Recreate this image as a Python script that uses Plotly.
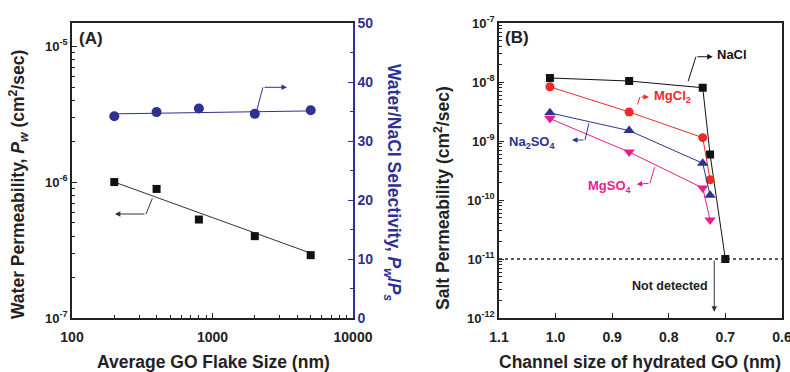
import math
import plotly.graph_objects as go

# ---------------- data: panel A ----------------
flake_size = [200, 400, 800, 2000, 5000]
water_perm = [1.0e-6, 0.89e-6, 0.53e-6, 0.40e-6, 0.29e-6]
selectivity = [34.2, 34.9, 35.5, 34.6, 35.2]
fit_x = [200, 5000]
perm_fit = [1.0e-6, 0.30e-6]
sel_fit = [34.6, 35.1]

# ---------------- data: panel B ----------------
channel = [1.01, 0.87, 0.74, 0.727]
nacl_x = [1.01, 0.87, 0.74, 0.727, 0.70]
nacl = [1.17e-8, 1.04e-8, 8.0e-9, 5.9e-10, 1.0e-11]
mgcl2 = [8.3e-9, 3.1e-9, 1.14e-9, 2.2e-10]
na2so4 = [3.0e-9, 1.5e-9, 4.2e-10, 1.2e-10]
mgso4 = [2.4e-9, 6.5e-10, 1.6e-10, 4.6e-11]
detect_limit = 1e-11

a_x_ticks = [100, 1000, 10000]
a_y_ticks = [1e-7, 1e-6, 1e-5]
b_x_ticks = [1.1, 1.0, 0.9, 0.8, 0.7, 0.6]
b_y_ticks = [1e-12, 1e-11, 1e-10, 1e-9, 1e-8, 1e-7]

FONT = "Liberation Sans, Arial, sans-serif"
NAVY = "#2e3192"
RED = "#ee2a2a"
MAG = "#ec1c8c"
BLK = "#111111"


def sup(v):
    return "10<sup>%d</sup>" % round(math.log10(v))


def minor_log(lo, hi):
    out = []
    for d in range(lo, hi):
        for m in range(2, 10):
            out.append(m * 10 ** d)
    return out


fig = go.Figure()

# Panel A
fig.add_trace(go.Scatter(x=fit_x, y=perm_fit, mode="lines",
                         line=dict(color="#333", width=1), xaxis="x", yaxis="y"))
fig.add_trace(go.Scatter(x=flake_size, y=water_perm, mode="markers",
                         marker=dict(symbol="square", size=8, color=BLK), xaxis="x", yaxis="y"))
fig.add_trace(go.Scatter(x=fit_x, y=sel_fit, mode="lines",
                         line=dict(color=NAVY, width=1), xaxis="x", yaxis="y2"))
fig.add_trace(go.Scatter(x=flake_size, y=selectivity, mode="markers",
                         marker=dict(symbol="circle", size=10, color=NAVY), xaxis="x", yaxis="y2"))

# Panel B
fig.add_trace(go.Scatter(x=nacl_x, y=nacl, mode="lines+markers",
                         line=dict(color=BLK, width=1),
                         marker=dict(symbol="square", size=8, color=BLK), xaxis="x3", yaxis="y3"))
fig.add_trace(go.Scatter(x=channel, y=mgcl2, mode="lines+markers",
                         line=dict(color=RED, width=1),
                         marker=dict(symbol="circle", size=9, color=RED), xaxis="x3", yaxis="y3"))
fig.add_trace(go.Scatter(x=channel, y=na2so4, mode="lines+markers",
                         line=dict(color=NAVY, width=1),
                         marker=dict(symbol="triangle-up", size=10, color=NAVY), xaxis="x3", yaxis="y3"))
fig.add_trace(go.Scatter(x=channel, y=mgso4, mode="lines+markers",
                         line=dict(color=MAG, width=1),
                         marker=dict(symbol="triangle-down", size=10, color=MAG), xaxis="x3", yaxis="y3"))

tickfont = dict(family=FONT, size=13, color="#222", weight="bold")
xtickfont = dict(family=FONT, size=14, color="#222", weight="bold")
dom_y = [54 / 372, 349 / 372]

fig.update_layout(
    width=790, height=372,
    margin=dict(l=0, r=0, t=0, b=0, autoexpand=False),
    paper_bgcolor="white", plot_bgcolor="white",
    showlegend=False,
    font=dict(family=FONT, color="#222"),
    xaxis=dict(type="log", range=[2, 4], domain=[72 / 790, 353 / 790], automargin=False,
               tickvals=a_x_ticks, ticktext=[str(v) for v in a_x_ticks],
               ticks="inside", ticklen=5, tickwidth=1.2, tickcolor="#222",
               ticklabelstandoff=5, ticklabeloverflow="allow",
               minor=dict(tickmode="array", tickvals=minor_log(2, 4), ticks="inside",
                          ticklen=3, tickcolor="#222", showgrid=False),
               showline=True, linecolor="#222", linewidth=1.5, mirror=True,
               showgrid=False, zeroline=False, tickfont=xtickfont, anchor="y"),
    yaxis=dict(type="log", range=[-7, -4.83], domain=dom_y, automargin=False,
               tickvals=a_y_ticks, ticktext=[sup(v) for v in a_y_ticks],
               ticks="inside", ticklen=5, tickwidth=1.2, tickcolor="#222",
               ticklabeloverflow="allow",
               minor=dict(tickmode="array", tickvals=minor_log(-7, -5), ticks="inside",
                          ticklen=3, tickcolor="#222", showgrid=False),
               showline=True, linecolor="#222", linewidth=1.5,
               showgrid=False, zeroline=False, tickfont=tickfont, anchor="x"),
    yaxis2=dict(range=[0, 50], domain=dom_y, overlaying="y", side="right", anchor="x",
                automargin=False, ticklabeloverflow="allow",
                dtick=10, ticks="inside", ticklen=5, tickwidth=1.2, tickcolor=NAVY,
                minor=dict(dtick=5, ticks="inside", ticklen=3, tickcolor=NAVY, showgrid=False),
                showline=True, linecolor=NAVY, linewidth=1.5,
                showgrid=False, zeroline=False,
                tickfont=dict(family=FONT, size=14, color=NAVY, weight="bold")),
    xaxis3=dict(range=[1.1, 0.5999], domain=[499 / 790, 782 / 790], anchor="y3", automargin=False,
                tickvals=b_x_ticks, ticktext=["%.1f" % v for v in b_x_ticks],
                ticks="inside", ticklen=5, tickwidth=1.2, tickcolor="#222",
                ticklabelstandoff=5, ticklabeloverflow="allow",
                showline=True, linecolor="#222", linewidth=1.5, mirror=True,
                showgrid=False, zeroline=False, tickfont=xtickfont),
    yaxis3=dict(type="log", range=[-12, -7], domain=dom_y, anchor="x3", automargin=False,
                tickvals=b_y_ticks, ticktext=[sup(v) for v in b_y_ticks],
                ticks="inside", ticklen=5, tickwidth=1.2, tickcolor="#222",
                ticklabeloverflow="allow",
                minor=dict(tickmode="array", tickvals=minor_log(-12, -7), ticks="inside",
                           ticklen=3, tickcolor="#222", showgrid=False),
                showline=True, linecolor="#222", linewidth=1.5, mirror=True,
                showgrid=False, zeroline=False, tickfont=tickfont),
)

# detection limit dotted line
fig.add_shape(type="line", xref="x3 domain", x0=0, x1=1, yref="y3",
              y0=detect_limit, y1=detect_limit,
              line=dict(color="#222", width=1.5, dash="dot"))

anns = []
title_font = dict(family=FONT, size=17.5, color="#222", weight="bold")


def seg(x, y, ax, ay, xref, yref, color, head=False):
    anns.append(dict(x=x, y=y, ax=ax, ay=ay, xref=xref, yref=yref, axref=xref, ayref=yref,
                     text="", showarrow=True, arrowhead=2 if head else 0, arrowsize=1.1,
                     arrowwidth=1, arrowcolor=color, standoff=0, startstandoff=0))


L = math.log10
# Panel A arrows (log axis -> log units)
seg(L(2286), 39.1, L(2040), 34.7, "x", "y2", NAVY)
seg(L(3388), 39.1, L(2286), 39.1, "x", "y2", NAVY, head=True)
seg(L(336.6), L(5.82e-7), L(377), L(7.8e-7), "x", "y", "#333")
seg(L(202), L(5.82e-7), L(336.6), L(5.82e-7), "x", "y", "#333", head=True)

# Panel B arrows (x linear, y log)
seg(0.752, L(2.68e-8), 0.7666, L(9.7e-9), "x3", "y3", BLK)
seg(0.7224, L(2.68e-8), 0.752, L(2.68e-8), "x3", "y3", BLK, head=True)
seg(0.851, L(5.57e-9), 0.856, L(3.92e-9), "x3", "y3", RED)
seg(0.835, L(5.57e-9), 0.851, L(5.57e-9), "x3", "y3", RED, head=True)
seg(0.948, L(1.04e-9), 0.9405, L(2.12e-9), "x3", "y3", NAVY)
seg(0.971, L(1.04e-9), 0.948, L(1.04e-9), "x3", "y3", NAVY, head=True)
seg(0.8332, L(1.92e-10), 0.8244, L(3.8e-10), "x3", "y3", MAG)
seg(0.8567, L(1.85e-10), 0.8332, L(1.92e-10), "x3", "y3", MAG, head=True)
seg(0.7196, L(1.28e-12), 0.7196, L(1e-11), "x3", "y3", "#333", head=True)

# Labels
lab = dict(family=FONT, size=13, weight="bold")
anns += [
    dict(x=0.7184, y=-7.542, xref="x3", yref="y3", text="NaCl", showarrow=False,
         xanchor="left", yanchor="middle", font=dict(lab, color=BLK)),
    dict(x=0.830, y=-8.25, xref="x3", yref="y3", text="MgCl<sub>2</sub>", showarrow=False,
         xanchor="left", yanchor="middle", font=dict(lab, color=RED)),
    dict(x=0.9975, y=-9.03, xref="x3", yref="y3", text="Na<sub>2</sub>SO<sub>4</sub>", showarrow=False,
         xanchor="right", yanchor="middle", font=dict(lab, color=NAVY)),
    dict(x=0.862, y=-9.77, xref="x3", yref="y3", text="MgSO<sub>4</sub>", showarrow=False,
         xanchor="right", yanchor="middle", font=dict(lab, color=MAG)),
    dict(x=0.7272, y=-11.46, xref="x3", yref="y3", text="Not detected", showarrow=False,
         xanchor="right", yanchor="middle", font=dict(lab, size=12.5, color="#222")),
    dict(x=77 / 790, y=1 - 38 / 372, xref="paper", yref="paper", text="(A)", showarrow=False,
         xanchor="left", yanchor="middle",
         font=dict(family=FONT, size=17, color="#222", weight="bold")),
    dict(x=503 / 790, y=1 - 37 / 372, xref="paper", yref="paper", text="(B)", showarrow=False,
         xanchor="left", yanchor="middle",
         font=dict(family=FONT, size=17, color="#222", weight="bold")),
    # axis titles
    dict(x=18 / 790, y=1 - 185 / 372, xref="paper", yref="paper", textangle=-90, showarrow=False,
         xanchor="center", yanchor="middle",
         text="Water Permeability, <i>P<sub>w</sub></i> (cm<sup>2</sup>/sec)", font=title_font),
    dict(x=393 / 790, y=1 - 182 / 372, xref="paper", yref="paper", textangle=90, showarrow=False,
         xanchor="center", yanchor="middle",
         text="Water/NaCl Selectivity, <i>P<sub>w</sub></i>/<i>P<sub>s</sub></i>",
         font=dict(title_font, color=NAVY)),
    dict(x=213 / 790, y=1 - 362 / 372, xref="paper", yref="paper", showarrow=False,
         xanchor="center", yanchor="middle",
         text="Average GO Flake Size (nm)", font=title_font),
    dict(x=442 / 790, y=1 - 198 / 372, xref="paper", yref="paper", textangle=-90, showarrow=False,
         xanchor="center", yanchor="middle",
         text="Salt Permeability (cm<sup>2</sup>/sec)", font=title_font),
    dict(x=640 / 790, y=1 - 362 / 372, xref="paper", yref="paper", showarrow=False,
         xanchor="center", yanchor="middle",
         text="Channel size of hydrated GO (nm)", font=title_font),
]
fig.update_layout(annotations=anns)

fig.write_html("out.html")
